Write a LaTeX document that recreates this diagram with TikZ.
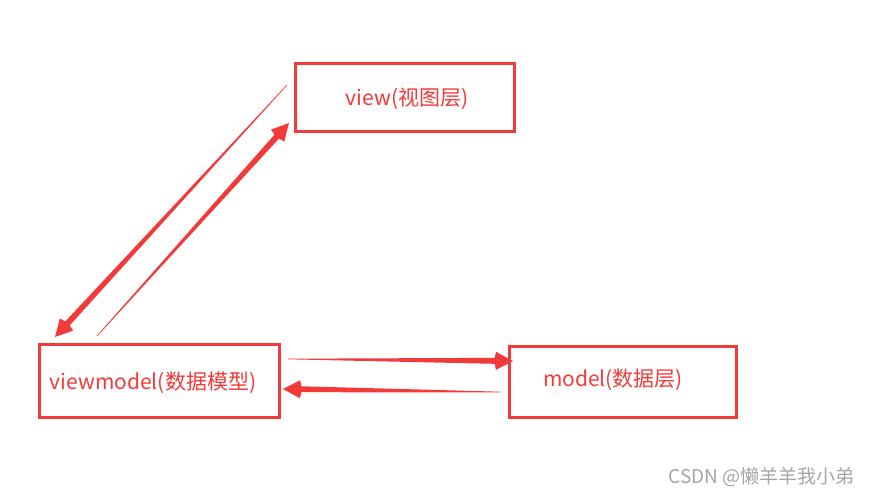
\documentclass[tikz,border=0pt]{standalone}
\usepackage{fontspec}
\setmainfont{Noto Sans CJK SC}
\usetikzlibrary{calc}
\definecolor{mvred}{RGB}{242,58,58}
\definecolor{wmgray}{RGB}{165,165,165}
\newcommand{\taperarrow}[2]{%
  \path ($(#2)!17pt!(#1)$) coordinate (tbase);
  \fill[mvred] ($(#1)!0.3pt!90:(#2)$) -- ($(tbase)!3pt!90:(#2)$) -- ($(tbase)!2pt!(#1)$) -- ($(tbase)!9pt!90:(#2)$) -- (#2)
    -- ($(tbase)!9pt!-90:(#2)$) -- ($(tbase)!2pt!(#1)$) -- ($(tbase)!3pt!-90:(#2)$) -- ($(#1)!0.3pt!-90:(#2)$) -- cycle;
}
\begin{document}
\begin{tikzpicture}[x=1pt,y=-1pt,
  box/.style={draw=mvred, line width=3pt, inner sep=0pt},
  lbl/.style={text=mvred, font=\fontsize{21}{24}\selectfont, inner sep=0pt}]
\useasboundingbox (0,0) rectangle (870,497);
% boxes
\node[box, minimum width=219pt, minimum height=68pt] (view) at (404.5,98) {};
\node[box, minimum width=240pt, minimum height=73pt] (vm) at (159,380.5) {};
\node[box, minimum width=227pt, minimum height=71pt] (model) at (622.5,381.5) {};
% labels
\node[lbl] (viewt) at (407,99) {view(视图层)};
\node[lbl] (vmt) at (153,383) {viewmodel(数据模型)};
\node[lbl] (modelt) at (613,380) {model(数据层)};
% arrow endpoints
\coordinate (a1s) at (287,85);  \coordinate (a1e) at (55,337);
\coordinate (a2s) at (97,336);  \coordinate (a2e) at (289,123);
\coordinate (a3s) at (288,359); \coordinate (a3e) at (513,361);
\coordinate (a4s) at (500,392); \coordinate (a4e) at (283,389);
\taperarrow{a1s}{a1e}
\taperarrow{a2s}{a2e}
\taperarrow{a3s}{a3e}
\taperarrow{a4s}{a4e}
% watermark
\node[text=wmgray, font=\fontsize{19}{22}\selectfont, anchor=east, inner sep=0pt] (wm) at (855,477) {CSDN @懒羊羊我小弟};
\end{tikzpicture}
\end{document}
